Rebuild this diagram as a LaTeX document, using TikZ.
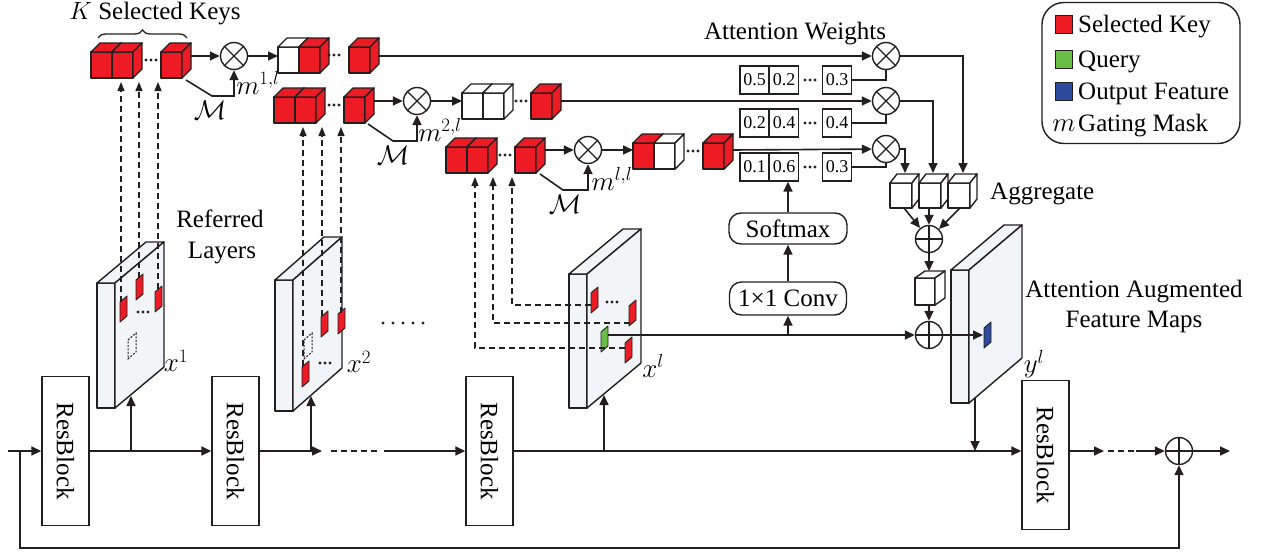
\RequirePackage{fix-cm}
\documentclass[tikz,border=0pt]{standalone}
\usepackage{fontspec}
\setmainfont{Liberation Serif}
\usepackage{graphicx}
\usetikzlibrary{arrows.meta,decorations.pathreplacing}
\definecolor{ink}{HTML}{231F20}
\definecolor{kred}{HTML}{ED1C24}
\definecolor{qgreen}{HTML}{6ABD45}
\definecolor{oblue}{HTML}{2E4A9E}
\definecolor{mapfill}{HTML}{F1F5F7}
% general cube: x y w h dx dy fill  (x,y = front top-left)
\newcommand\cubeg[7]{%
 \filldraw[cubeline,fill=#7] (#1,#2) rectangle ++(#3,#4);
 \filldraw[cubeline,fill=#7] (#1,#2) -- ++(#5,-#6) -- ++(#3,0) -- ++(-#5,#6) -- cycle;
 \filldraw[cubeline,fill=#7] ({#1+#3},#2) -- ++(#5,-#6) -- ++(0,#4) -- ++(-#5,#6) -- cycle;}
\newcommand\cube[3]{\cubeg{#1}{#2}{21}{26}{9}{9}{#3}}
% feature map: x ytop thickness height dx dy
\newcommand\fmap[6]{%
 \filldraw[mapface] (#1,#2) rectangle ++(#3,#4);
 \filldraw[mapface] (#1,#2) -- ++(#5,-#6) -- ++(#3,0) -- ++(-#5,#6) -- cycle;
 \filldraw[mapface] ({#1+#3},#2) -- ++(#5,-#6) -- ++(0,#4) -- ++(-#5,#6) -- cycle;}
% patch on a map: x ytop fill
\newcommand\kp[3]{\filldraw[patchline,fill=#3] (#1,{#2+6}) -- ({#1+7},#2) -- ({#1+7},{#2+20}) -- (#1,{#2+26}) -- cycle;}
\newcommand\dotp[2]{\draw[ink,line width=1pt,dash pattern=on 2pt off 1.5pt] (#1,{#2+7}) -- ({#1+8},#2) -- ({#1+8},{#2+19}) -- (#1,{#2+26}) -- cycle;}
\newcommand\threedots[2]{\fill[ink] ({#1-5},#2) circle (1.6pt) (#1,#2) circle (1.6pt) ({#1+5},#2) circle (1.6pt);}
\begin{document}
\begin{tikzpicture}[x=1pt,y=-1pt,font=\fontsize{25}{30}\selectfont,
 conn/.style={draw=ink,line width=1.6pt},
 arr/.style={conn,-{Triangle[length=10pt,width=9pt]}},
 dline/.style={draw=ink,line width=1.3pt,dash pattern=on 6pt off 4pt},
 darr/.style={dline,-{Triangle[length=9pt,width=7pt]}},
 cubeline/.style={draw=ink,line width=1.4pt,line join=round},
 mapface/.style={draw=ink,fill=mapfill,line width=1.4pt,line join=round},
 patchline/.style={draw=ink,line width=0.9pt,line join=round},
 opnode/.style={circle,draw=ink,line width=1.4pt,minimum size=27pt,inner sep=0pt,fill=white},
 otimesn/.style={opnode,path picture={\draw[ink,line width=1.3pt] (path picture bounding box.north west)--(path picture bounding box.south east) (path picture bounding box.south west)--(path picture bounding box.north east);}},
 oplusn/.style={opnode,path picture={\draw[ink,line width=1.3pt] (path picture bounding box.north)--(path picture bounding box.south) (path picture bounding box.west)--(path picture bounding box.east);}},
 rbox/.style={draw=ink,line width=1.4pt,minimum width=47pt,minimum height=149pt,inner sep=0pt,fill=white},
 rrbox/.style={draw=ink,line width=1.4pt,rounded corners=12pt,inner sep=0pt,fill=white},
 wbox/.style={draw=ink,line width=1.3pt,minimum width=29pt,minimum height=28pt,inner sep=0pt,font=\fontsize{18}{20}\selectfont},
 mlab/.style={inner sep=0pt,font=\fontsize{27}{30}\selectfont},
 txt/.style={inner sep=0pt,anchor=base}]
\useasboundingbox (0,0) rectangle (1264,557);

% ---------- labels ----------
\node[txt] (lblK) at (155,19) {$K$ Selected Keys};
\draw[ink,line width=1.3pt,decorate,decoration={brace,amplitude=8pt}] (98,38) -- (187,38);
\node[txt] (lblAW) at (795,39) {Attention Weights};
\node[txt,align=center] (lblRef) at (220,227) {Referred};
\node[txt] (lblLay) at (222,258) {Layers};
\node[txt,anchor=base west] (lblAgg) at (990,199) {Aggregate};
\node[txt] (lblAA) at (1134,297) {Attention Augmented};
\node[txt] (lblFM) at (1134,327) {Feature Maps};

% ---------- legend ----------
\node[draw=ink,line width=1.4pt,rounded corners=22pt,minimum width=198pt,minimum height=141pt,inner sep=0pt] (legend) at (1141,73) {};
\filldraw[draw=ink,line width=1pt,fill=kred] (1055,15) rectangle (1072,33);
\filldraw[draw=ink,line width=1pt,fill=qgreen] (1055,50) rectangle (1072,68);
\filldraw[draw=ink,line width=1pt,fill=oblue] (1055,82) rectangle (1072,100);
\node[txt,anchor=base west] (lg1) at (1078,32) {Selected Key};
\node[txt,anchor=base west] (lg2) at (1078,67) {Query};
\node[txt,anchor=base west] (lg3) at (1078,99) {Output Feature};
\node[txt] (lg4m) at (1064,131) {\fontsize{27}{30}\selectfont$m$};
\node[txt,anchor=base west] (lg4) at (1078,131) {Gating Mask};

% ---------- feature maps ----------
\fmap{97}{283}{18}{125}{49}{41}
\fmap{275}{280}{18}{131}{49}{43}
\fmap{569}{274}{18}{134}{54}{45}
\fmap{951}{270}{18}{133}{53}{45}
\node[mlab] (lx1) at (176,361) {$x^1$};
\node[mlab] (lx2) at (359,362) {$x^2$};
\node[mlab] (lxl) at (653,366) {$x^l$};
\node[mlab] (lyl) at (1034,364) {$y^l$};

% patches x^1
\kp{120}{296}{kred}\kp{136}{274}{kred}\kp{155}{286}{kred}
\dotp{128}{333}
\threedots{143}{312}
% patches x^2
\dotp{304}{333}
\kp{302}{361}{kred}\kp{321}{311}{kred}\kp{338}{308}{kred}
\threedots{325}{363}
% patches x^l
\kp{591}{287}{kred}\kp{629}{300}{kred}\kp{601}{326}{qgreen}\kp{625}{337}{kred}
\threedots{612}{302}
% output patch
\kp{984}{322}{oblue}
% dots between maps
\foreach \dx in {0,10,20,30,40} \fill[ink] ({383+\dx},323) circle (1.6pt);

% ---------- key cubes and gating ----------
% row 1
\cube{91}{52}{kred}\cube{112}{52}{kred}\threedots{151}{60}\cube{161}{52}{kred}
\cube{278}{47}{white}\cube{299}{47}{kred}\threedots{334}{55}\cube{349}{47}{kred}
% row 2
\cube{274}{97}{kred}\cube{295}{97}{kred}\threedots{334}{105}\cube{344}{97}{kred}
\cube{462}{93}{white}\cube{483}{93}{white}\threedots{521}{101}\cube{531}{93}{kred}
% row 3
\cube{446}{147}{kred}\cube{467}{147}{kred}\threedots{505}{155}\cube{515}{147}{kred}
\cube{633}{143}{kred}\cube{654}{143}{white}\threedots{693}{151}\cube{703}{143}{kred}

\node[otimesn] (ot1) at (234,56) {};
\node[otimesn] (ot2) at (417,101) {};
\node[otimesn] (ot3) at (588,150) {};
\coordinate (k1e) at (191,56); \coordinate (o1w) at (278,56); \coordinate (o1e) at (379,56);
\coordinate (k2e) at (374,101); \coordinate (o2w) at (462,101); \coordinate (o2e) at (561,101);
\coordinate (k3e) at (545,150); \coordinate (o3w) at (633,150); \coordinate (o3e) at (733,150);
\draw[arr] (k1e) -- (ot1); \draw[arr] (ot1) -- (o1w);
\draw[arr] (k2e) -- (ot2); \draw[arr] (ot2) -- (o2w);
\draw[arr] (k3e) -- (ot3); \draw[arr] (ot3) -- (o3w);
\coordinate (g1) at (186,80); \coordinate (g2) at (368,124); \coordinate (g3) at (540,174);
\draw[arr] (g1) -- (212,96) -| (ot1);
\draw[arr] (g2) -- (393,141) -| (ot2);
\draw[arr] (g3) -- (563,190) -| (ot3);
\node[mlab] (M1) at (210,110) {$\mathcal{M}$};
\node[mlab] (M2) at (393,155) {$\mathcal{M}$};
\node[mlab] (M3) at (565,204) {$\mathcal{M}$};
\node[mlab] (m1) at (258,83) {$m^{1,l}$};
\node[mlab] (m2) at (440,130) {$m^{2,l}$};
\node[mlab] (m3) at (612,179) {$m^{l,l}$};

% ---------- dashed key sources ----------
\draw[darr] (121,302) -- (121,82);
\draw[darr] (139,278) -- (139,82);
\draw[darr] (158,289) -- (158,82);
\draw[darr] (303,366) -- (303,127);
\draw[darr] (322,316) -- (322,127);
\draw[darr] (341,313) -- (341,127);
\draw[darr] (591,305) -| (512,177);
\draw[darr] (630,323) -| (493,177);
\draw[darr] (625,348) -| (475,177);

% ---------- attention weights ----------
\node[otimesn] (ow1) at (886,56) {};
\node[otimesn] (ow2) at (886,101) {};
\node[otimesn] (ow3) at (886,149) {};
\draw[arr] (o1e) -- (ow1);
\draw[arr] (o2e) -- (ow2);
\draw[arr] (o3e) -- (ow3);
\node[wbox] (w11) at (754.5,80) {0.5};
\node[wbox] (w12) at (784,80) {0.2};
\node[wbox] (w13) at (837,80) {0.3};
\node[wbox] (w21) at (754.5,123) {0.2};
\node[wbox] (w22) at (784,123) {0.4};
\node[wbox] (w23) at (837,123) {0.4};
\node[wbox] (w31) at (754.5,167) {0.1};
\node[wbox] (w32) at (784,167) {0.6};
\node[wbox] (w33) at (837,167) {0.3};
\threedots{810}{80}\threedots{810}{123}\threedots{810}{167}
\draw[conn] (w13.east) -| (ow1);
\draw[conn] (w23.east) -| (ow2);
\draw[conn] (w33.east) -| (ow3);

% ---------- softmax / conv ----------
\node[rrbox,minimum width=118pt,minimum height=31pt] (soft) at (788,228.5) {Softmax};
\node[rrbox,minimum width=117pt,minimum height=33pt] (conv) at (788,298.5) {1×1 Conv};
\draw[arr] (conv.north) -- (soft.south);
\draw[arr] (soft.north) -- (soft.north |- w32.south);

% ---------- aggregate ----------
\cubeg{890}{183}{22}{25}{7}{9}{white}
\cubeg{919}{183}{22}{25}{7}{9}{white}
\cubeg{948}{183}{22}{25}{7}{9}{white}
\coordinate (a1t) at (905,173); \coordinate (a2t) at (933,173); \coordinate (a3t) at (963,173);
\draw[arr] (ow1) -| (a3t);
\draw[arr] (ow2) -| (a2t);
\draw[arr] (ow3) -| (a1t);
\node[oplusn] (pl1) at (929,239) {};
\draw[arr] (904,208) -- (pl1);
\draw[arr] (929,208) -- (pl1);
\draw[arr] (960,208) -- (pl1);
\cubeg{915}{278}{20}{27}{10}{7}{white}
\coordinate (sct) at (929,271); \coordinate (scb) at (929,305);
\draw[arr] (pl1) -- (sct);
\node[oplusn] (pl2) at (929,335) {};
\draw[arr] (scb) -- (pl2);
\coordinate (qe) at (608,335); \coordinate (qb) at (788,335); \coordinate (bl) at (983,335);
\draw[arr] (qe) -- (pl2);
\draw[arr] (qb) -- (conv.south);
\draw[arr] (pl2) -- (bl);

% ---------- backbone ----------
\coordinate (m) at (0,451);
\node[rbox] (rb1) at (65.5,451) {\rotatebox{-90}{ResBlock}};
\node[rbox] (rb2) at (235.5,451) {\rotatebox{-90}{ResBlock}};
\node[rbox] (rb3) at (489.5,451) {\rotatebox{-90}{ResBlock}};
\node[rbox] (rb4) at (1045.5,455) {\rotatebox{-90}{ResBlock}};
\node[oplusn] (plout) at (1179,451) {};
\coordinate (in) at (8,451); \coordinate (fb) at (20,451);
\draw[arr] (in) -- (rb1.west);
\draw[arr] (fb) -- (20,548) -| (plout);
\draw[arr] (rb1.east) -- (rb2.west);
\draw[arr] (131,451) -- (131,396);
\draw[arr] (rb2.east) -- (322,451);
\draw[arr] (311,451) -- (311,396);
\draw[dline] (331,451) -- (377,451);
\draw[arr] (384,451) -- (rb3.west);
\draw[arr] (rb3.east) -- (rb3.east -| rb4.west);
\draw[arr] (604,451) -- (604,395);
\draw[arr] (975,398) -- (975,451);
\draw[arr] (rb4.east |- m) -- (1104,451);
\draw[dline] (1108,451) -- (1134,451);
\draw[arr] (1136,451) -- (plout);
\draw[arr] (plout) -- (1230,451);
\end{tikzpicture}
\end{document}
